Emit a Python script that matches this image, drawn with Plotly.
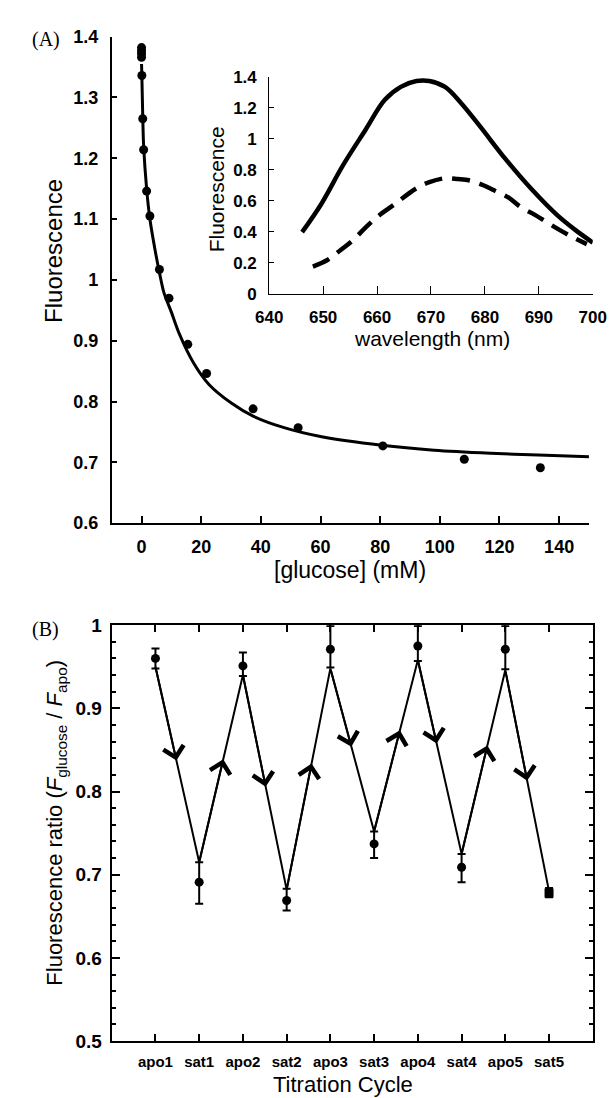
import plotly.graph_objects as go

# ---------------- Panel A: titration data ----------------
glucose_mM = [0, 0, 0, 0, 0.1, 0.4, 0.7, 1.7, 2.8, 6.0, 9.2, 15.5, 21.8, 37.4, 52.5, 80.9, 108.2, 133.7]
fluorescence = [1.382, 1.377, 1.372, 1.366, 1.336, 1.265, 1.214, 1.146, 1.105, 1.017, 0.970,
                0.894, 0.846, 0.788, 0.757, 0.727, 0.705, 0.691]

fit_glucose = [0, 0.1, 0.4, 0.7, 1.7, 2.8, 4.5, 6.0, 7.5, 10, 12.6, 17.6, 22.6, 30.2, 37.4,
               47.8, 60.4, 80.5, 98.1, 117, 133, 150]
fit_fluor = [1.355, 1.336, 1.27, 1.22, 1.15, 1.10, 1.05, 1.012, 0.979, 0.947, 0.912, 0.862,
             0.828, 0.797, 0.776, 0.757, 0.742, 0.728, 0.720, 0.715, 0.712, 0.709]

# ---------------- Panel A inset: spectra ----------------
wl_solid = [646.1, 649.6, 653.7, 657.9, 661.4, 664.4, 667.3, 669.7, 672.6, 675.6, 679.1,
            683.8, 688.5, 693.3, 696.8, 700]
fl_solid = [0.397, 0.576, 0.83, 1.06, 1.25, 1.335, 1.373, 1.373, 1.335, 1.23, 1.08,
            0.87, 0.68, 0.51, 0.41, 0.33]
wl_dash = [648.1, 650.8, 653.2, 655.5, 657.9, 660.2, 663.2, 667.3, 669.7, 672.6, 675.0,
           677.3, 679.7, 682.1, 684.4, 686.8, 689.2, 691.5, 693.9, 696.8, 698.9]
fl_dash = [0.175, 0.217, 0.28, 0.344, 0.428, 0.50, 0.576, 0.68, 0.72, 0.745, 0.74,
           0.73, 0.70, 0.66, 0.62, 0.555, 0.51, 0.46, 0.41, 0.355, 0.32]

# ---------------- Panel B: titration cycles ----------------
cycle_labels = ["apo1", "sat1", "apo2", "sat2", "apo3", "sat3", "apo4", "sat4", "apo5", "sat5"]
ratio = [0.960, 0.691, 0.951, 0.669, 0.971, 0.737, 0.975, 0.709, 0.971, 0.678]
err_plus = [0.012, 0.024, 0.016, 0.014, 0.028, 0.015, 0.024, 0.016, 0.028, 0.006]
err_minus = [0.012, 0.026, 0.012, 0.012, 0.022, 0.017, 0.018, 0.018, 0.024, 0.005]
path_ratio = [0.950, 0.715, 0.940, 0.682, 0.948, 0.752, 0.958, 0.725, 0.946, 0.680]
arrow_frac = [0.48, 0.55, 0.52, 0.57, 0.48, 0.59, 0.43, 0.59, 0.50]
marker_symbols = ["circle"] * 9 + ["square"]

cycle_x = list(range(1, len(cycle_labels) + 1))

FONT = "Liberation Sans, Arial, sans-serif"
SERIF = "Liberation Serif, Times New Roman, serif"

fig = go.Figure()

# Panel A main
fig.add_trace(go.Scatter(x=fit_glucose, y=fit_fluor, mode="lines",
                         line=dict(color="black", width=3, shape="spline", smoothing=0.8),
                         xaxis="x", yaxis="y", showlegend=False))
fig.add_trace(go.Scatter(x=glucose_mM, y=fluorescence, mode="markers",
                         marker=dict(color="black", size=9),
                         xaxis="x", yaxis="y", showlegend=False))

# Inset
fig.add_trace(go.Scatter(x=wl_solid, y=fl_solid, mode="lines",
                         line=dict(color="black", width=4.5, shape="spline"),
                         xaxis="x2", yaxis="y2", showlegend=False))
fig.add_trace(go.Scatter(x=wl_dash, y=fl_dash, mode="lines",
                         line=dict(color="black", width=4.5, shape="spline", dash="18px,10px"),
                         xaxis="x2", yaxis="y2", showlegend=False))

# Panel B
fig.add_trace(go.Scatter(x=cycle_x, y=path_ratio, mode="lines",
                         line=dict(color="black", width=2),
                         xaxis="x3", yaxis="y3", showlegend=False))
fig.add_trace(go.Scatter(x=cycle_x, y=ratio, mode="markers",
                         marker=dict(color="black", size=9, symbol=marker_symbols),
                         error_y=dict(type="data", array=err_plus, arrayminus=err_minus,
                                      color="black", thickness=2, width=4),
                         xaxis="x3", yaxis="y3", showlegend=False))

annotations = []
for i, f in enumerate(arrow_frac):
    x0, y0 = cycle_x[i], path_ratio[i]
    x1, y1 = cycle_x[i + 1], path_ratio[i + 1]
    hx = x0 + f * (x1 - x0)
    hy = y0 + f * (y1 - y0)
    annotations.append(dict(x=hx, y=hy, ax=x0, ay=y0, xref="x3", yref="y3",
                            axref="x3", ayref="y3", text="", showarrow=True,
                            arrowhead=4, arrowsize=2.0, arrowwidth=2, arrowcolor="black",
                            standoff=0, startstandoff=0))

def txt(text, x, y, size, angle=0, family=FONT):
    return dict(text=text, x=x, y=y, xref="paper", yref="paper", showarrow=False,
                textangle=angle, font=dict(family=family, size=size, color="black"),
                xanchor="center", yanchor="middle")

W, H = 615, 1098
annotations += [
    txt("(A)", 25 / W, 1 - 22 / H, 20, family=SERIF),
    txt("(B)", 25 / W, 1 - 623 / H, 20, family=SERIF),
    txt("Fluorescence", 33 / W, 1 - 237 / H, 24, angle=-90),
    txt("[glucose] (mM)", 344 / W, 1 - 563 / H, 23),
    txt("Fluorescence", 204 / W, 1 - 175 / H, 21, angle=-90),
    txt("wavelength (nm)", 430 / W, 1 - 327 / H, 21),
    txt("Fluorescence ratio (<i>F</i><sub>glucose</sub> / <i>F</i><sub>apo</sub>)",
        36 / W, 1 - 820 / H, 22, angle=-90),
    txt("Titration Cycle", 336 / W, 1 - 1087 / H, 22),
]

tickfont = dict(family=FONT, size=18, color="black", weight="bold")

fig.update_layout(
    width=W, height=H,
    margin=dict(l=0, r=0, t=0, b=0),
    paper_bgcolor="white", plot_bgcolor="white",
    showlegend=False,
    annotations=annotations,
    xaxis=dict(domain=[94 / W, 594 / W], range=[-10, 150], anchor="y",
               tickvals=[0, 20, 40, 60, 80, 100, 120, 140],
               showline=True, linecolor="black", linewidth=1.5,
               ticks="inside", ticklen=7, tickwidth=1.5, tickcolor="black",
               showgrid=False, zeroline=False, tickfont=tickfont, ticklabelstandoff=6),
    yaxis=dict(domain=[1 - 515 / H, 1 - 19 / H], range=[0.6, 1.4], anchor="x",
               dtick=0.1, tick0=0.6,
               showline=True, linecolor="black", linewidth=1.5,
               ticks="inside", ticklen=6, tickwidth=1.5, tickcolor="black",
               showgrid=False, zeroline=False, tickfont=tickfont, ticklabelstandoff=8),
    xaxis2=dict(domain=[259 / W, 598 / W], range=[640, 700], anchor="y2",
                dtick=10, tick0=640,
                showline=True, linecolor="black", linewidth=1,
                ticks="inside", ticklen=8, tickwidth=1, tickcolor="black",
                showgrid=False, zeroline=False,
                tickfont=dict(family=FONT, size=17, color="black", weight="bold"),
                ticklabelstandoff=8),
    yaxis2=dict(domain=[1 - 281 / H, 1 - 60 / H], range=[0, 1.4], anchor="x2",
                dtick=0.2, tick0=0,
                showline=True, linecolor="black", linewidth=1,
                ticks="inside", ticklen=5, tickwidth=1, tickcolor="black",
                showgrid=False, zeroline=False,
                tickfont=dict(family=FONT, size=17, color="black", weight="bold"),
                ticklabelstandoff=8),
    xaxis3=dict(domain=[94 / W, 598 / W], range=[0, 11], anchor="y3",
                tickvals=cycle_x, ticktext=cycle_labels,
                showline=True, mirror="ticks", linecolor="black", linewidth=2,
                ticks="inside", ticklen=7, tickwidth=1.5, tickcolor="black",
                showgrid=False, zeroline=False,
                tickfont=dict(family=FONT, size=15, color="black", weight="bold"),
                ticklabelstandoff=6),
    yaxis3=dict(domain=[1 - 1043 / H, 1 - 619 / H], range=[0.5, 1.0], anchor="x3",
                dtick=0.1, tick0=0.5,
                showline=True, mirror="ticks", linecolor="black", linewidth=2,
                ticks="inside", ticklen=8, tickwidth=1.5, tickcolor="black",
                minor=dict(dtick=0.02, ticks="inside", ticklen=4, tickwidth=1.5, tickcolor="black"),
                showgrid=False, zeroline=False,
                tickfont=dict(family=FONT, size=19, color="black", weight="bold"),
                ticklabelstandoff=4),
)

fig.write_html("out.html")
